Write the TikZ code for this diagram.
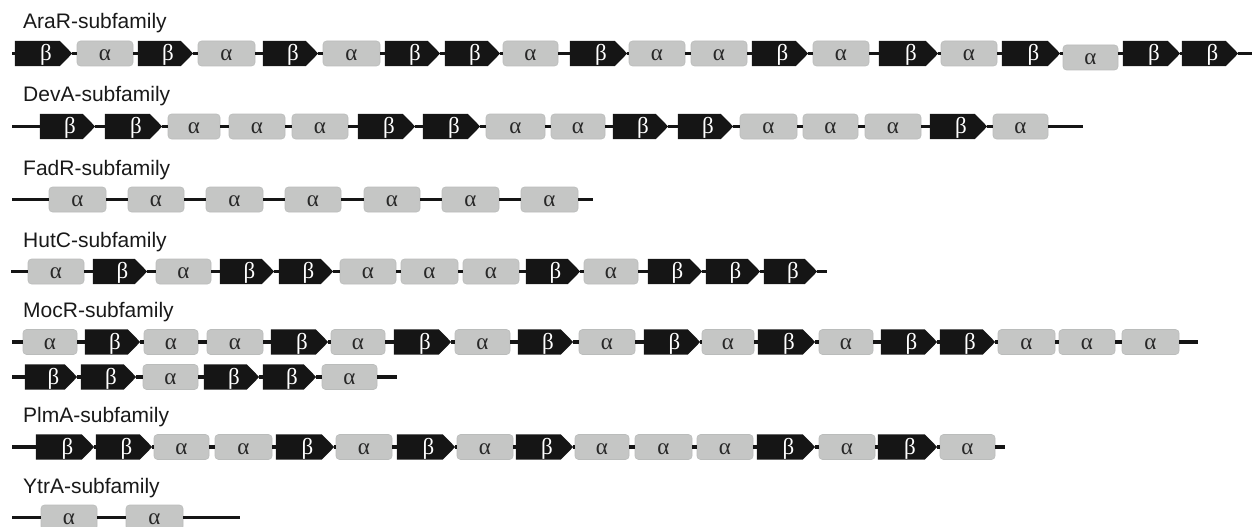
\documentclass[tikz,border=0pt]{standalone}
\usepackage{fontspec}
\setmainfont{Liberation Sans}
\newfontfamily\grk{Liberation Serif}
\pgfdeclarelayer{background}
\pgfsetlayers{background,main}
\definecolor{bfill}{RGB}{21,21,21}
\definecolor{afill}{RGB}{197,198,197}
\definecolor{aedge}{RGB}{186,188,187}
\definecolor{atext}{RGB}{40,40,40}
\tikzset{
  elem/.style={rectangle, inner sep=0pt, minimum height=25pt, text height=16pt, text depth=2pt, font=\fontsize{23}{25}\selectfont\grk},
  abox/.style={elem, fill=afill, draw=aedge, line width=0.6pt, rounded corners=3.5pt, text=atext},
  bbox/.style={elem, text=white},
  backbone/.style={line width=3.5pt, draw=bfill},
  famlabel/.style={anchor=base west, inner sep=0pt, font=\fontsize{21}{24}\selectfont, text=black!90},
}
\newcommand\generow[5]{%
  \coordinate (#1s) at (#3,#2);
  \coordinate (#1e) at (#4,#2);
  \foreach \ty/\xa/\xb [count=\i, remember=\i as \p (initially 0)] in {#5} {
    \if\ty b
      \node[bbox, minimum width={(\xb-\xa)*1pt}] (#1n\i) at ({(\xa+\xb)/2},#2) {\hspace{5pt}β};
      \begin{pgfonlayer}{background}
        \fill[bfill] (#1n\i.north west) -- ([xshift=-12.5pt]#1n\i.north east) -- (#1n\i.east) -- ([xshift=-12.5pt]#1n\i.south east) -- (#1n\i.south west) -- cycle;
      \end{pgfonlayer}
    \else
      \if\ty c
        \node[abox, minimum width={(\xb-\xa)*1pt}] (#1n\i) at ({(\xa+\xb)/2},{#2+4}) {α};
      \else
        \node[abox, minimum width={(\xb-\xa)*1pt}] (#1n\i) at ({(\xa+\xb)/2},#2) {α};
      \fi
    \fi
    \ifnum\i=1
      \draw[backbone] (#1s) -- (#1n\i.west |- #1s);
    \else
      \draw[backbone] (#1n\p.east |- #1s) -- (#1n\i.west |- #1s);
    \fi
    \xdef\lastnode{#1n\i}
  }
  \draw[backbone] (\lastnode.east |- #1s) -- (#1e);
}
\begin{document}
\begin{tikzpicture}[x=1pt,y=-1pt]
\useasboundingbox (0,0) rectangle (1253,527);
\node[famlabel] (l1) at (23,29) {AraR-subfamily};
\node[famlabel] (l2) at (23,102) {DevA-subfamily};
\node[famlabel] (l3) at (23,175) {FadR-subfamily};
\node[famlabel] (l4) at (23,247) {HutC-subfamily};
\node[famlabel] (l5) at (23,317.5) {MocR-subfamily};
\node[famlabel] (l7) at (23,422.5) {PlmA-subfamily};
\node[famlabel] (l8) at (23,493) {YtrA-subfamily};
\generow{r1}{53.5}{12}{1252}{b/15/72, a/77/133, b/138/193, a/198/255, b/263/318, a/323/380, b/385/440, b/445/500, a/503/558, b/570/627, a/629/685, a/691/747, b/752/808, a/813/869, b/879/938, a/941/997, b/1002/1060, c/1063/1118, b/1123/1180, b/1182/1238}
\generow{r2}{126.5}{12}{1083}{b/40/95, b/105/162, a/168/220, a/229/285, a/292/348, b/358/415, b/423/480, a/486/545, a/551/605, b/613/668, b/678/733, a/740/797, a/803/858, a/865/921, b/930/987, a/993/1048}
\generow{r3}{199.5}{12}{593}{a/49/106, a/128/184, a/206/263, a/285/341, a/364/420, a/442/499, a/521/578}
\generow{r4}{271.5}{11}{827}{a/28/84, b/93/147, a/156/211, b/220/274, b/279/333, a/340/396, a/401/458, a/463/519, b/526/580, a/584/638, b/648/702, b/706/760, b/764/817}
\generow{r5}{342}{12}{1198}{a/23/77, b/85/140, a/144/198, a/207/263, b/271/328, a/331/385, b/394/451, a/455/510, b/518/573, a/579/635, b/644/700, a/702/754, b/758/815, a/819/873, b/881/937, b/940/995, a/998/1055, a/1059/1115, a/1122/1179}
\generow{r6}{377}{12}{397}{b/25/77, b/81/136, a/143/198, b/204/259, b/263/316, a/322/377}
\generow{r7}{447}{12}{1005}{b/36/94, b/96/152, a/154/209, a/215/272, b/276/334, a/336/392, b/397/455, a/457/513, b/516/573, a/575/629, a/635/692, a/697/753, b/757/815, a/819/875, b/878/937, a/940/995}
\generow{r8}{517.5}{12}{240}{a/41/97, a/126/183}
\end{tikzpicture}
\end{document}
